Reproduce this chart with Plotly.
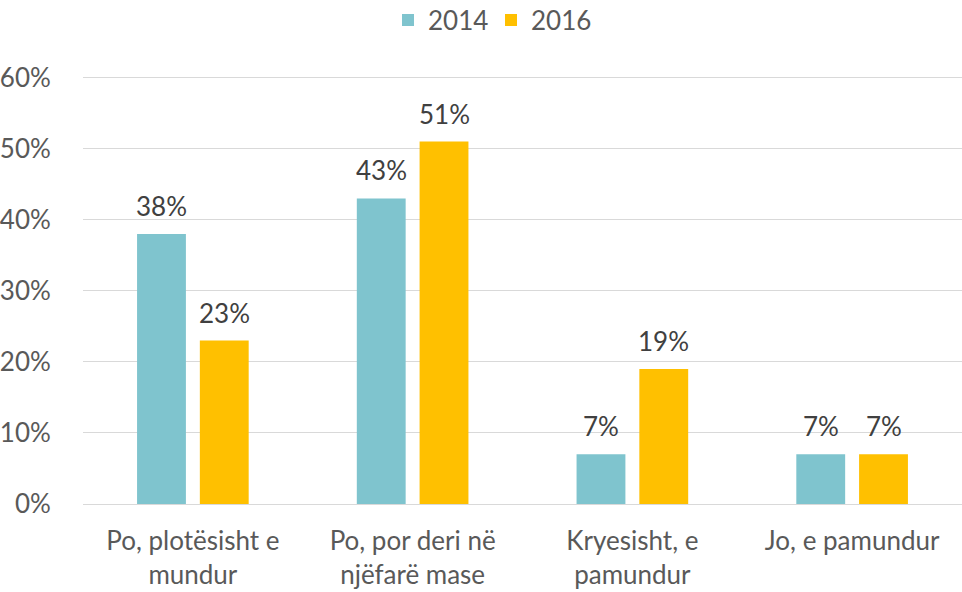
import plotly.graph_objects as go

categories = ["Po, plotësisht e<br>mundur", "Po, por deri në<br>njëfarë mase",
              "Kryesisht, e<br>pamundur", "Jo, e pamundur"]
series_names = ["2014", "2016"]
values_2014 = [0.38, 0.43, 0.07, 0.07]
values_2016 = [0.23, 0.51, 0.19, 0.07]
y_ticks = [0, 0.1, 0.2, 0.3, 0.4, 0.5, 0.6]
y_tick_labels = ["0%", "10%", "20%", "30%", "40%", "50%", "60%"]

colors = ["#7FC4CE", "#FFC000"]
FONT = "Lato"
TXT = "#595959"
FS = 26

fig = go.Figure()
for name, vals, col in zip(series_names, [values_2014, values_2016], colors):
    fig.add_trace(go.Bar(x=categories, y=vals, name=name, marker_color=col,
                         marker_line_width=0, hoverinfo="skip"))

# data labels above bars
for vals, shift in zip([values_2014, values_2016], [-31.5, 31.5]):
    for c, v in zip(categories, vals):
        fig.add_annotation(x=c, y=v, text=f"{round(v*100)}%", showarrow=False,
                           xshift=shift, yshift=10, yanchor="bottom",
                           font=dict(family=FONT, size=FS, color="#404040"))

fig.update_layout(
    width=962, height=592,
    margin=dict(l=83, r=0, t=74.4, b=88, autoexpand=False),
    paper_bgcolor="white", plot_bgcolor="white",
    barmode="group", bargap=0.4286, bargroupgap=0.222,
    font=dict(family=FONT, size=FS, color=TXT),
    showlegend=True,
    legend=dict(orientation="h", xref="container", x=0.5104, xanchor="center",
                y=0.9662, yanchor="middle", yref="container",
                font=dict(family=FONT, size=FS, color=TXT),
                itemclick=False, entrywidth=58, traceorder="normal"),
    xaxis=dict(showgrid=False, showline=True, linecolor="#D9D9D9", linewidth=1,
               ticks="outside", ticklen=14, tickcolor="rgba(0,0,0,0)",
               tickfont=dict(family=FONT, size=FS, color=TXT), fixedrange=True),
    yaxis=dict(range=[0, 0.605], tickvals=y_ticks, ticktext=y_tick_labels,
               showgrid=True, gridcolor="#D9D9D9", gridwidth=1,
               zeroline=True, zerolinecolor="#D9D9D9", zerolinewidth=1,
               ticks="outside", ticklen=26, tickcolor="rgba(0,0,0,0)",
               tickfont=dict(family=FONT, size=FS, color=TXT), fixedrange=True),
)

fig.write_html("out.html", config={"displayModeBar": False},
               post_script="document.body.style.margin='0';")
